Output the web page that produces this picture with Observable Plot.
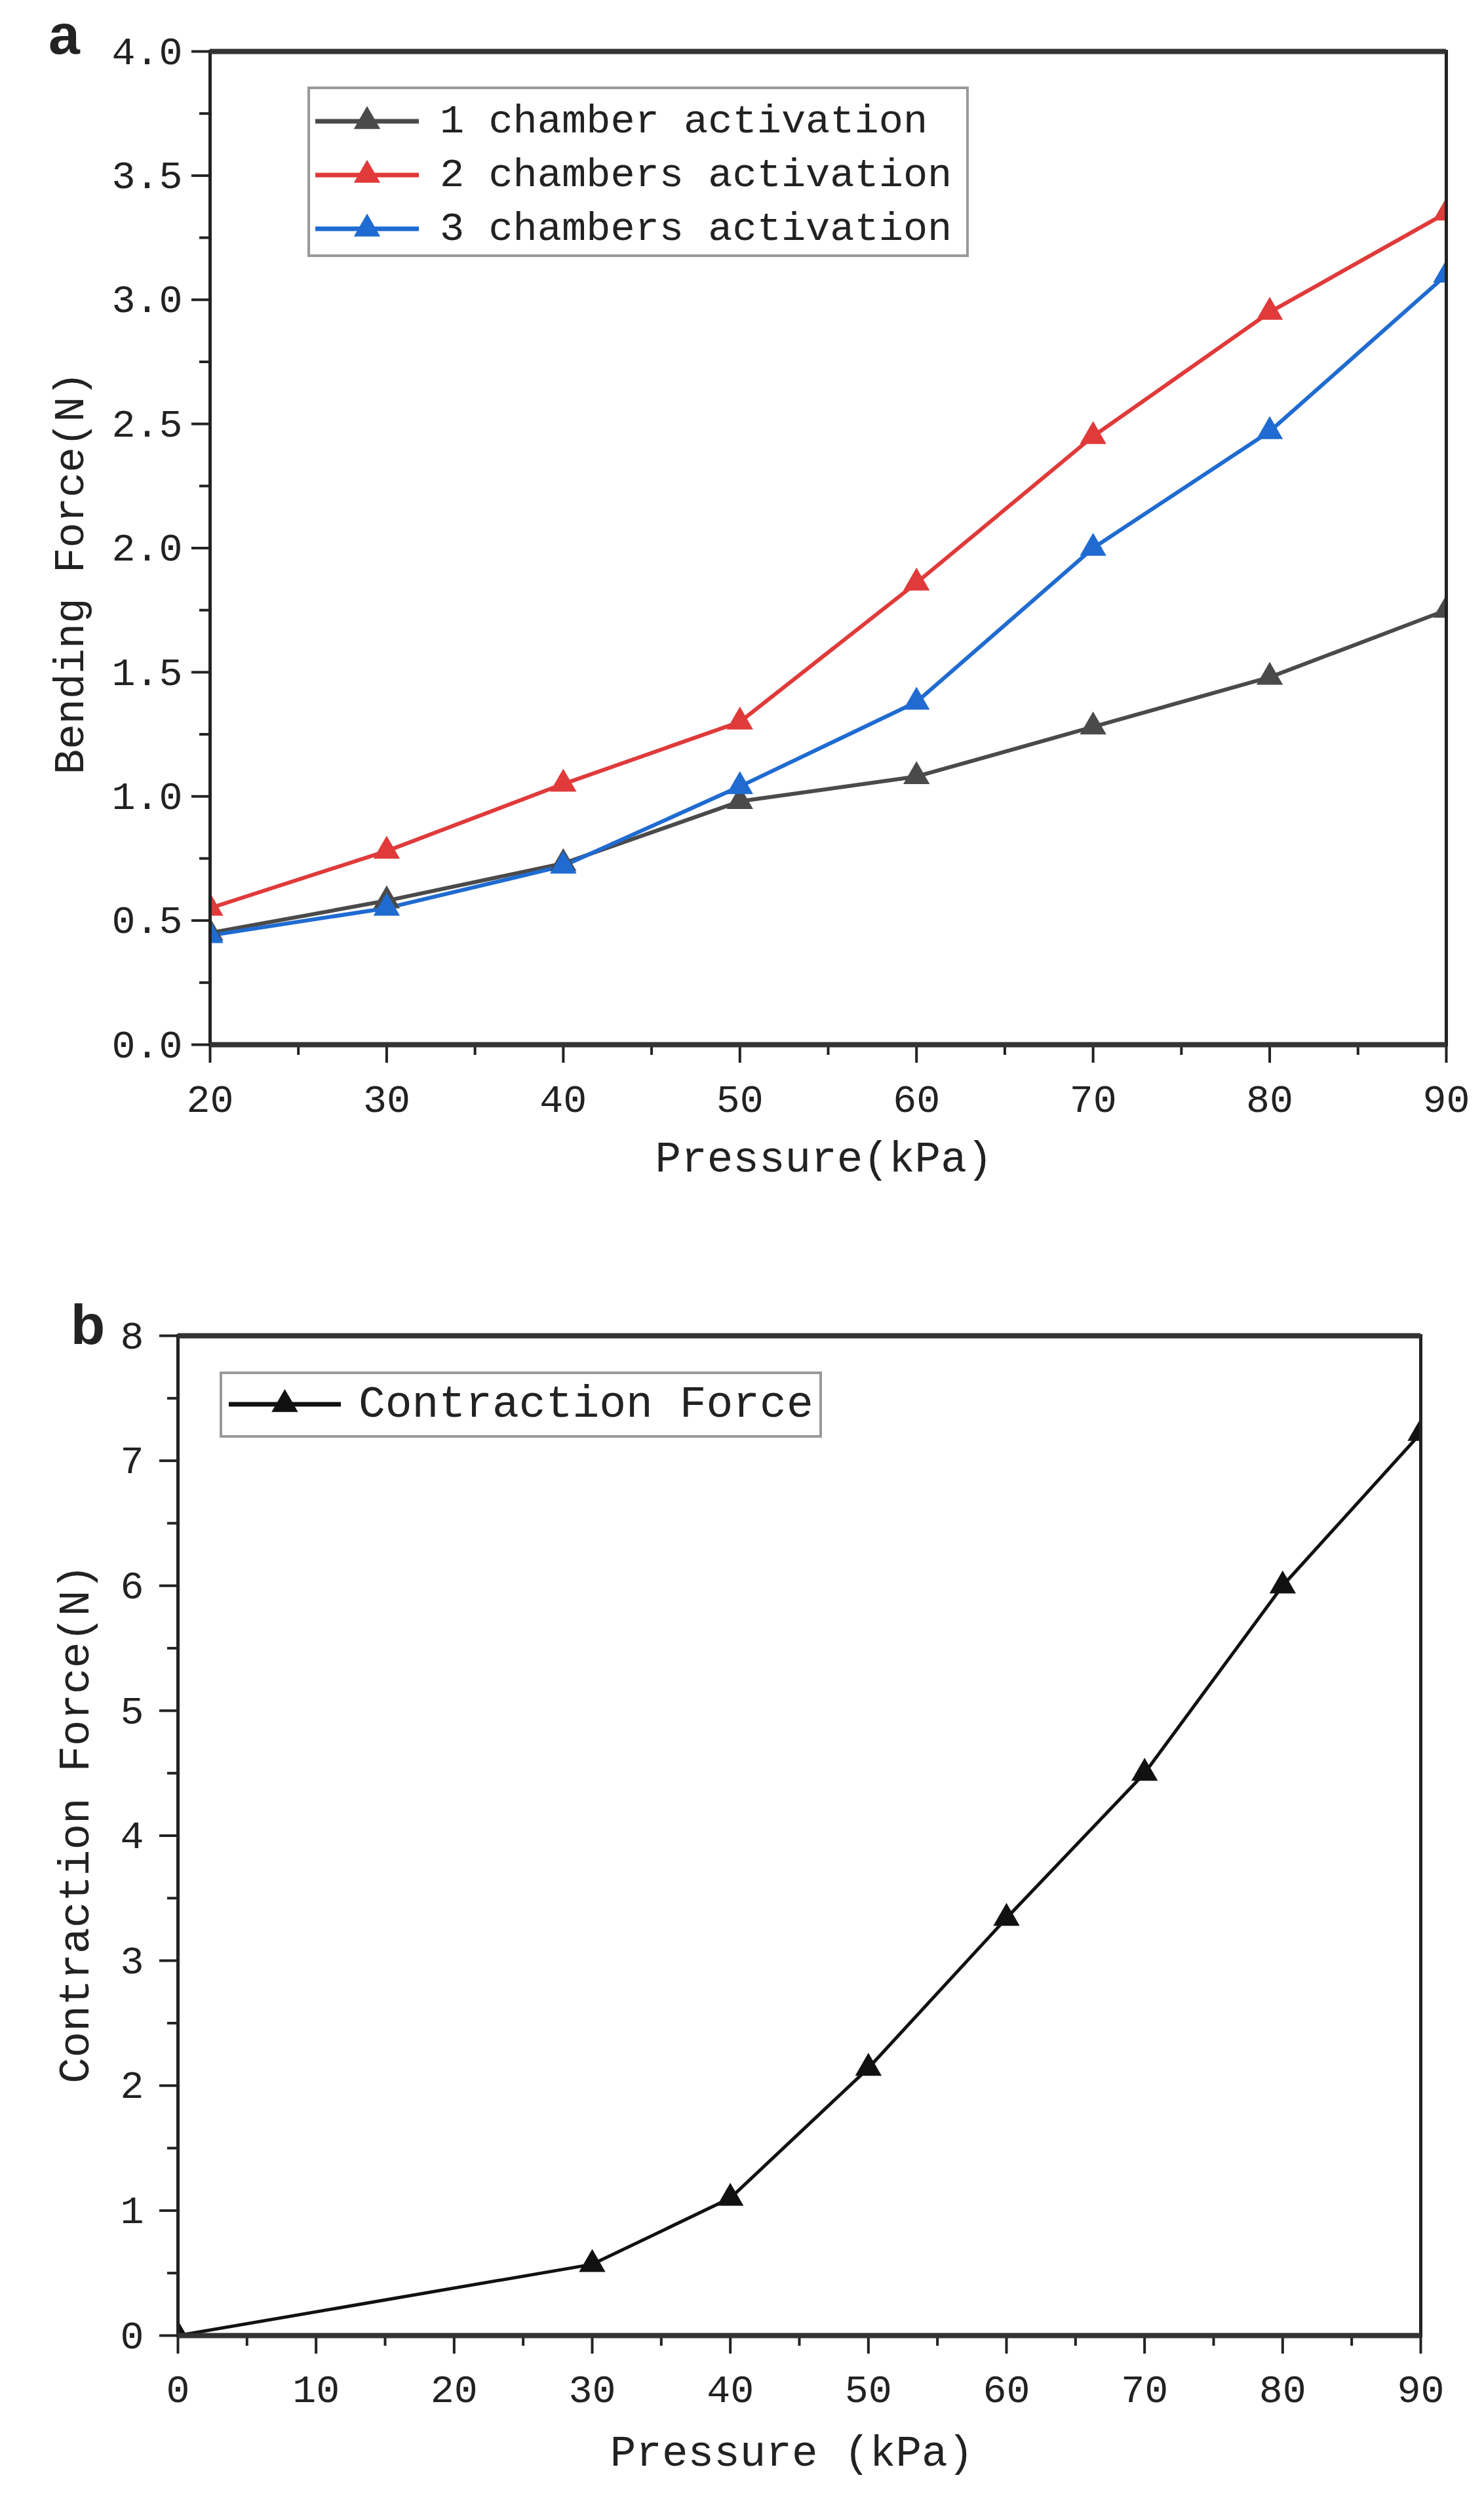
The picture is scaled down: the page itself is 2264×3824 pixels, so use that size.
<!DOCTYPE html>
<html>
<head>
<meta charset="utf-8">
<script src="https://cdn.jsdelivr.net/npm/d3@7"></script>
<script src="https://cdn.jsdelivr.net/npm/@observablehq/plot@0.6"></script>
<style>
  body { margin: 0; background: white; }
  #chart svg { display: block; }
</style>
</head>
<body>
<div id="chart"></div>
<script>
// panel a: bending force
const pressureA = [20, 30, 40, 50, 60, 70, 80, 90]
const oneChamber = [0.45, 0.58, 0.73, 0.98, 1.08, 1.28, 1.48, 1.75]
const twoChambers = [0.55, 0.78, 1.05, 1.30, 1.86, 2.45, 2.95, 3.35]
const threeChambers = [0.44, 0.55, 0.72, 1.04, 1.38, 2.00, 2.47, 3.10]
const seriesNames = ["1 chamber activation", "2 chambers activation", "3 chambers activation"]
const seriesColors = ["#4a4a4a", "#e03a3a", "#1f6bd1"]
const xTicksA = [20, 30, 40, 50, 60, 70, 80, 90]
const yTicksA = [0, 0.5, 1, 1.5, 2, 2.5, 3, 3.5, 4]

// panel b: contraction force
const pressureB = [0, 30, 40, 50, 60, 70, 80, 90]
const contraction = [0, 0.57, 1.10, 2.14, 3.34, 4.50, 6.00, 7.22]
const xTicksB = [0, 10, 20, 30, 40, 50, 60, 70, 80, 90]
const yTicksB = [0, 1, 2, 3, 4, 5, 6, 7, 8]

const FONT = "'Liberation Mono', 'DejaVu Sans Mono', monospace"
const MARK_R = 15

const rowsA = []
;[oneChamber, twoChambers, threeChambers].forEach((vals, i) => {
  vals.forEach((v, j) => rowsA.push({series: seriesNames[i], pressure: pressureA[j], force: v}))
})
const rowsB = pressureB.map((p, i) => ({pressure: p, force: contraction[i]}))

// minor ticks halfway between the major ones
const half = v => v.slice(1).map((t, i) => (t + v[i]) / 2)
const ends = v => [v[0], v[v.length - 1]]

function addText(svg, txt, x, y, opts = {}) {
  const t = d3.select(svg).append("text")
    .attr("x", x).attr("y", y)
    .attr("text-anchor", opts.anchor || "middle")
    .attr("dominant-baseline", "central")
    .attr("font-family", opts.font || FONT)
    .attr("font-size", opts.size || 64)
    .attr("font-weight", opts.weight || "normal")
    .attr("fill", "#222")
    .text(txt)
  if (opts.rotate) t.attr("transform", `rotate(-90 ${x} ${y})`)
}

function addLegend(svg, box, items, fontSize) {
  const g = d3.select(svg).append("g")
  g.append("rect")
    .attr("x", box.x).attr("y", box.y).attr("width", box.w).attr("height", box.h)
    .attr("fill", "white").attr("stroke", "#999").attr("stroke-width", 4)
  const tri = d3.symbol(d3.symbolTriangle, Math.PI * MARK_R * MARK_R)()
  items.forEach((it, i) => {
    const y = box.first + i * box.step
    g.append("line")
      .attr("x1", box.lineX).attr("x2", box.lineX + box.lineW)
      .attr("y1", y).attr("y2", y)
      .attr("stroke", it.color).attr("stroke-width", 7)
    g.append("path").attr("d", tri)
      .attr("transform", `translate(${box.lineX + box.lineW / 2},${y})`)
      .attr("fill", it.color)
    g.append("text")
      .attr("x", box.textX).attr("y", y)
      .attr("text-anchor", "start")
      .attr("dominant-baseline", "central")
      .attr("font-family", FONT).attr("font-size", fontSize)
      .attr("fill", "#222")
      .text(it.name)
  })
}

let chartA = Plot.plot({
  width: 2264,
  height: 1870,
  marginLeft: 320,
  marginRight: 58,
  marginTop: 78,
  marginBottom: 277,
  x: {domain: [20, 90]},
  y: {domain: [0, 4]},
  color: {domain: seriesNames, range: seriesColors},
  style: {fontFamily: FONT, background: "white", color: "#222", overflow: "visible"},
  marks: [
    Plot.axisX(half(xTicksA), {tickSize: 16, strokeWidth: 4, tickFormat: () => "", label: null}),
    Plot.axisY(half(yTicksA), {tickSize: 16, strokeWidth: 4, tickFormat: () => "", label: null}),
    Plot.axisX(xTicksA, {tickSize: 28, tickPadding: 32, strokeWidth: 4, fontSize: 60, tickFormat: d3.format("d"), label: null}),
    Plot.axisY(yTicksA, {tickSize: 28, tickPadding: 14, strokeWidth: 4, fontSize: 60, tickFormat: d3.format(".1f"), label: null}),
    Plot.line(rowsA, {x: "pressure", y: "force", stroke: "series", strokeWidth: 6, clip: true}),
    Plot.dot(rowsA, {x: "pressure", y: "force", fill: "series", symbol: "triangle", r: MARK_R, clip: true}),
    Plot.frame({stroke: "#222", strokeWidth: 5}),
    Plot.ruleY(ends(yTicksA), {stroke: "#333", strokeWidth: 8})
  ]
})
addText(chartA, "a", 98, 52, {font: "'Liberation Sans', Arial, sans-serif", weight: "bold", size: 86})
addText(chartA, "Pressure(kPa)", 1257, 1769, {size: 66})
addText(chartA, "Bending Force(N)", 110, 874, {size: 64, rotate: true})
addLegend(chartA, {x: 471, y: 134, w: 1005, h: 256, first: 185, step: 82, lineX: 481, lineW: 158, textX: 671},
  seriesNames.map((n, i) => ({name: n, color: seriesColors[i]})), 62)

let chartB = Plot.plot({
  width: 2264,
  height: 1954,
  marginLeft: 271,
  marginRight: 97,
  marginTop: 167,
  marginBottom: 262,
  x: {domain: [0, 90]},
  y: {domain: [0, 8]},
  style: {fontFamily: FONT, background: "white", color: "#222", overflow: "visible"},
  marks: [
    Plot.axisX(half(xTicksB), {tickSize: 16, strokeWidth: 4, tickFormat: () => "", label: null}),
    Plot.axisY(half(yTicksB), {tickSize: 16, strokeWidth: 4, tickFormat: () => "", label: null}),
    Plot.axisX(xTicksB, {tickSize: 28, tickPadding: 31, strokeWidth: 4, fontSize: 60, tickFormat: d3.format("d"), label: null}),
    Plot.axisY(yTicksB, {tickSize: 28, tickPadding: 24, strokeWidth: 4, fontSize: 60, tickFormat: d3.format("d"), label: null}),
    Plot.line(rowsB, {x: "pressure", y: "force", stroke: "#111", strokeWidth: 5, clip: true}),
    Plot.dot(rowsB, {x: "pressure", y: "force", fill: "#111", symbol: "triangle", r: MARK_R, clip: true}),
    Plot.frame({stroke: "#222", strokeWidth: 5}),
    Plot.ruleY(ends(yTicksB), {stroke: "#333", strokeWidth: 8})
  ]
})
addText(chartB, "b", 134, 150, {font: "'Liberation Sans', Arial, sans-serif", weight: "bold", size: 86})
addText(chartB, "Pressure (kPa)", 1208, 1873, {size: 66})
addText(chartB, "Contraction Force(N)", 117, 912, {size: 66, rotate: true})
addLegend(chartB, {x: 337, y: 224, w: 915, h: 97, first: 272, step: 0, lineX: 349, lineW: 171, textX: 547},
  [{name: "Contraction Force", color: "#111"}], 68)

d3.select('#chart').append(() => chartA)
d3.select('#chart').append(() => chartB)
</script>
</body>
</html>
